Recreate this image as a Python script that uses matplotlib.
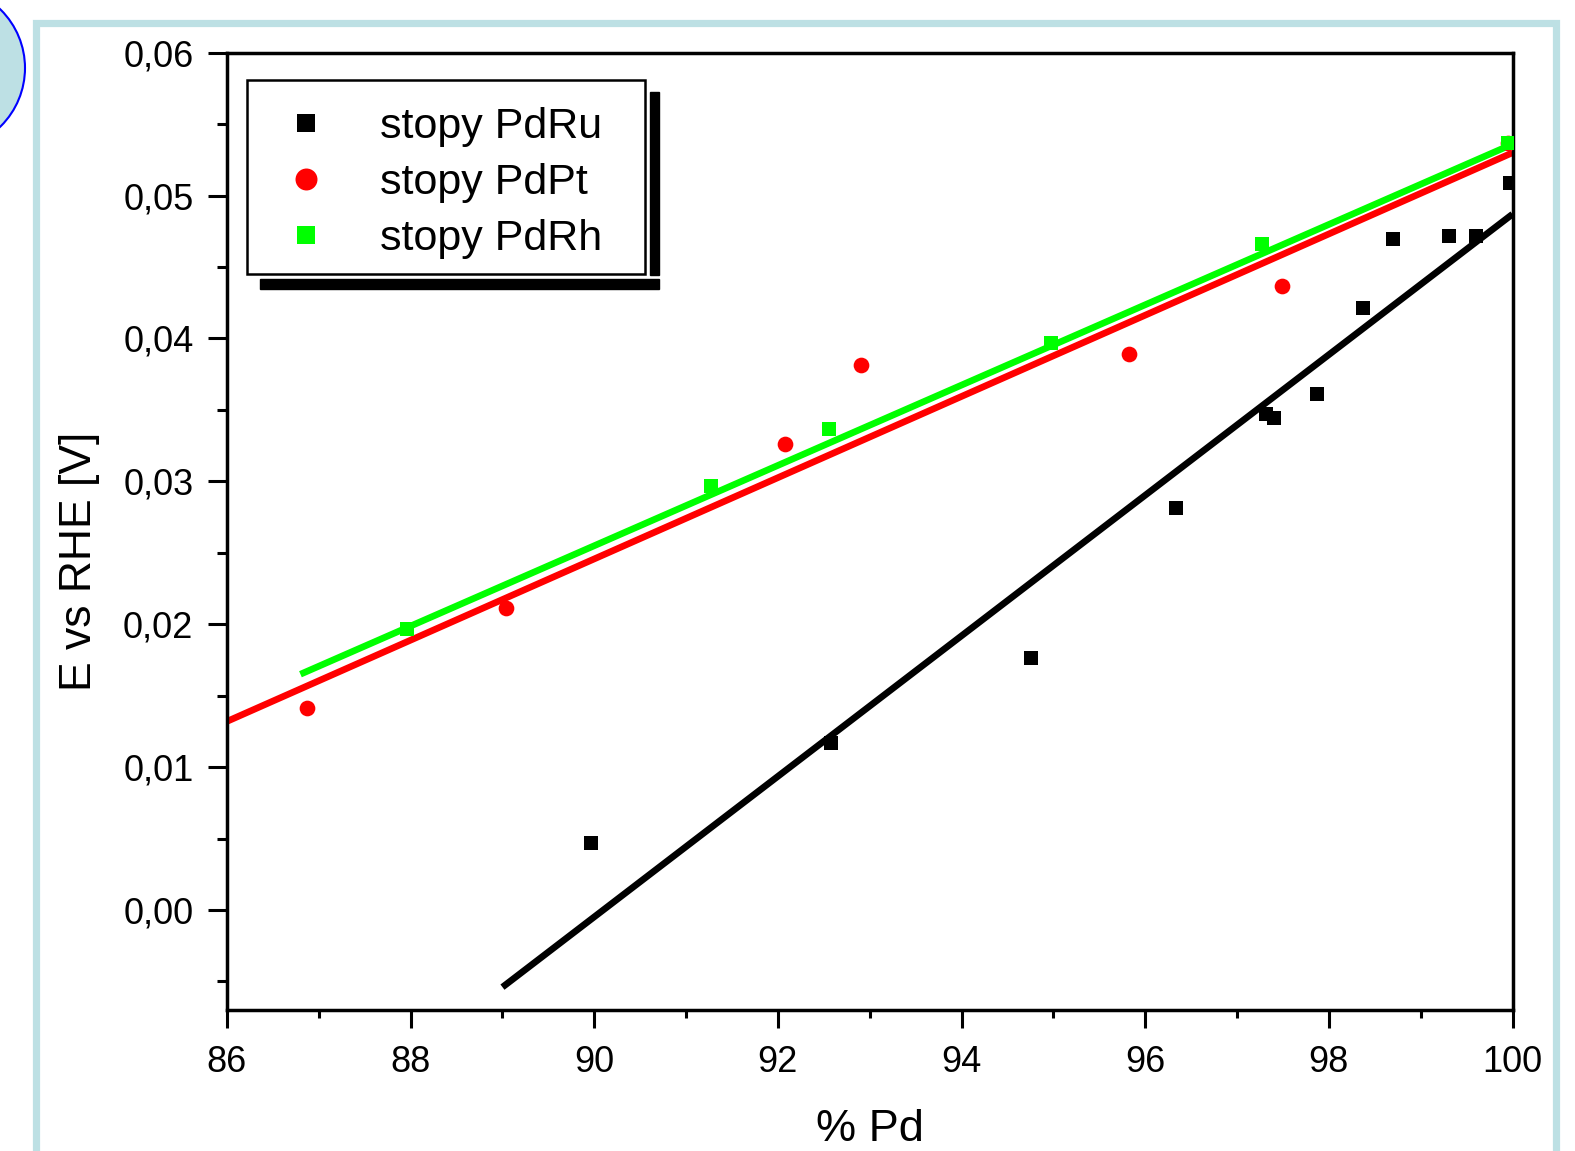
import matplotlib
matplotlib.use("Agg")
from matplotlib import pyplot as plt
from matplotlib.patches import Rectangle, Ellipse
from matplotlib.ticker import MultipleLocator, FuncFormatter

plt.rcParams['font.family'] = ['Liberation Sans', 'DejaVu Sans']

W, H = 1575, 1151

# data (% Pd, E vs RHE [V])
ru_x = [89.96, 92.58, 94.76, 96.33, 97.32, 97.40, 97.87, 98.37, 98.70, 99.31, 99.60, 99.97]
ru_y = [0.00468, 0.01168, 0.01766, 0.02816, 0.03469, 0.03446, 0.03614, 0.04216, 0.04699, 0.04715, 0.04715, 0.05089]
pt_x = [86.87, 89.04, 92.08, 92.91, 95.82, 97.49, 99.95]
pt_y = [0.01416, 0.02113, 0.03264, 0.03817, 0.03894, 0.04367, 0.0537]
rh_x = [87.96, 91.27, 92.56, 94.97, 97.27, 99.95]
rh_y = [0.01969, 0.02967, 0.03366, 0.03968, 0.04664, 0.05369]

# fitted lines (end points)
ru_fit_x = [89.0, 100.0]
ru_fit_y = [-0.0054, 0.0487]
pt_fit_x = [86.0, 100.0]
pt_fit_y = [0.0132, 0.0530]
rh_fit_x = [86.8, 100.0]
rh_fit_y = [0.0165, 0.0536]

labels = ["stopy PdRu", "stopy PdPt", "stopy PdRh"]


def fx(px):
    return px / W


def fy(py):
    return 1 - py / H


def box(target, x0, y0, x1, y1, **kw):
    # rectangle given in pixel coords (y down), placed in figure coords
    r = Rectangle((fx(x0), fy(y1)), (x1 - x0) / W, (y1 - y0) / H,
                  transform=fig.transFigure, clip_on=False, **kw)
    if target is fig:
        fig.patches.append(r)
    else:
        target.add_patch(r)


fig = plt.figure(figsize=(W / 100, H / 100), dpi=100)

# light blue frame and the circle in the corner
box(fig, 35.5, 23, 1556, 1300, facecolor='none', edgecolor='#bde0e4', lw=5.2, zorder=0)
fig.patches.append(Ellipse((fx(-57), fy(68)), 2 * 82 / W, 2 * 82 / H,
                           transform=fig.transFigure, facecolor='#bde0e4',
                           edgecolor='#0000ff', lw=1.5, zorder=0))

ax = fig.add_axes([fx(227), fy(1010), fx(1512.5) - fx(227), fy(52.7) - fy(1010)])
ax.set_facecolor('none')

ax.plot(ru_fit_x, ru_fit_y, color='black', lw=4.8, solid_capstyle='butt', zorder=2)
ax.plot(pt_fit_x, pt_fit_y, color='#ff0000', lw=4.8, solid_capstyle='butt', zorder=2)
ax.plot(rh_fit_x, rh_fit_y, color='#00ff00', lw=4.8, solid_capstyle='butt', zorder=2)

ax.plot(ru_x, ru_y, 's', color='black', ms=9.4, mew=0, label=labels[0], zorder=3)
ax.plot(pt_x, pt_y, 'o', color='#ff0000', ms=11.3, mew=0, label=labels[1], zorder=3)
ax.plot(rh_x, rh_y, 's', color='#00ff00', ms=9.6, mew=0, label=labels[2], zorder=3)

ax.set_xlim(86, 100)
ax.set_ylim(-0.007, 0.06)
ax.xaxis.set_major_locator(MultipleLocator(2))
ax.xaxis.set_minor_locator(MultipleLocator(1))
ax.yaxis.set_major_locator(MultipleLocator(0.01))
ax.yaxis.set_minor_locator(MultipleLocator(0.005))
ax.yaxis.set_major_formatter(FuncFormatter(lambda v, p: ("%.2f" % v).replace('.', ',').replace('-0,00', '0,00')))

ax.tick_params(which='both', direction='out', width=2.2, top=False, right=False, labelsize=26)
ax.tick_params(axis='y', which='major', length=13.7, pad=10.5)
ax.tick_params(axis='y', which='minor', length=7)
ax.tick_params(axis='x', which='major', length=13, pad=12)
ax.tick_params(axis='x', which='minor', length=6)
for s in ax.spines.values():
    s.set_linewidth(2.5)

ax.set_xlabel("% Pd", fontsize=32.5)
ax.set_ylabel("E vs RHE [V]", fontsize=32)
ax.xaxis.set_label_coords(0.5, (1010 - 1109) / 957.3)
ax.yaxis.set_label_coords((99.5 - 227) / 1285.5, (1010 - 561) / 957.3)

# legend box with its shadow bars, drawn as in the original
box(ax, 246.7, 80, 645, 274, facecolor='white', edgecolor='black', lw=1.8, zorder=4)
box(ax, 650, 92, 659, 275, color='black', zorder=4)
box(ax, 260, 279, 659, 289, color='black', zorder=4)

leg = ax.legend(loc='upper left',
                bbox_to_anchor=((246.7 - 227) / 1285.5, (1010 - 82) / 957.3),
                borderaxespad=0, fontsize=31, frameon=False,
                borderpad=0.59, handlelength=1.58, handletextpad=0.93,
                labelspacing=0.37, markerscale=1.4)
leg.set_zorder(6)

fig.savefig("out.png", dpi=100)
